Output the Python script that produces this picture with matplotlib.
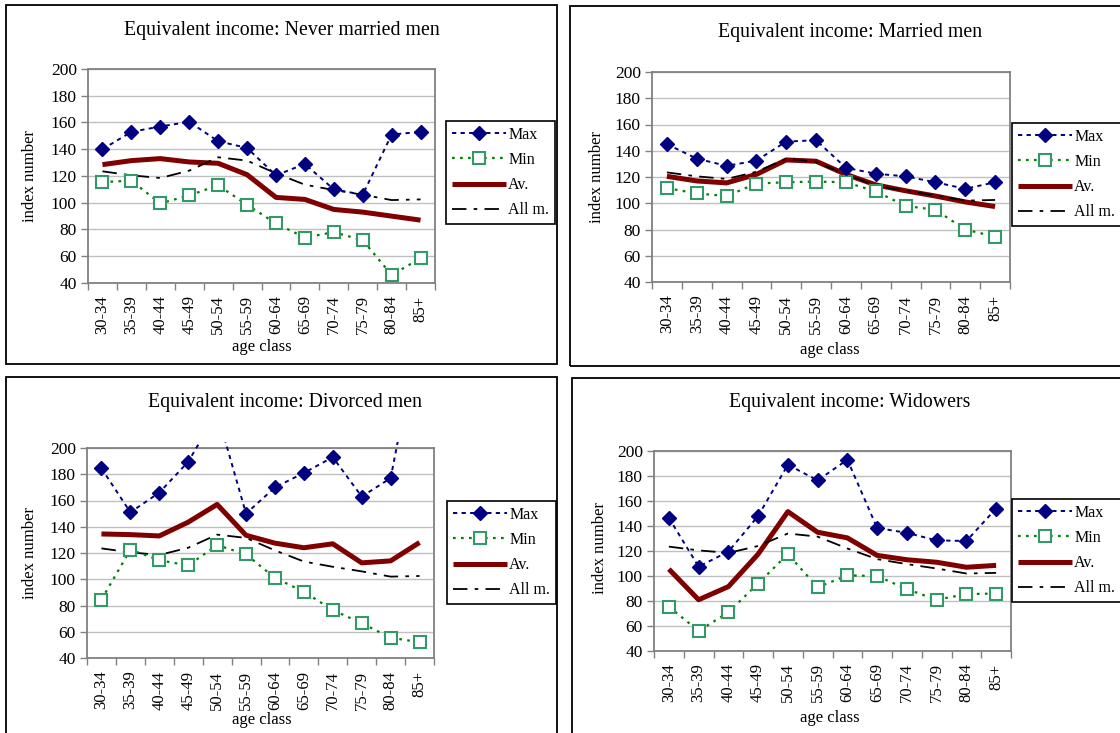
import numpy as np
import matplotlib.pyplot as plt
from matplotlib.patches import Rectangle

plt.rcParams['font.family'] = ['Liberation Serif', 'DejaVu Serif']

# age classes on the x axis
age = ['30-34', '35-39', '40-44', '45-49', '50-54', '55-59',
       '60-64', '65-69', '70-74', '75-79', '80-84', '85+']

# reference line: all men
all_men = [123.5, 120.5, 118.5, 124, 134, 131.5, 122, 113.5, 109.5, 106, 102, 102.5]

never_max = [140, 153, 157, 160.5, 146, 141, 120.5, 129, 110, 106, 151, 153]
never_min = [115.5, 116.5, 99.5, 105.5, 113, 98.5, 84.5, 74, 78, 72, 46, 58.5]
never_av = [128.5, 131.5, 133, 130.5, 129.5, 121, 104, 102.5, 95, 93, 90, 87]

married_max = [145, 134, 128.5, 132.5, 147, 148, 127, 122.5, 120.5, 116, 111, 116]
married_min = [111.5, 107.5, 105.5, 115, 116, 116.5, 116, 109, 98, 95, 80, 74.5]
married_av = [120.5, 117, 115.5, 122, 133, 132, 122, 114, 109.5, 105.5, 101, 97.5]

divorced_max = [184.5, 151, 166, 189.5, 227, 150, 170, 181, 193, 163, 177, 290]
divorced_min = [84.5, 122.5, 114.5, 110.5, 126, 119, 101, 90.5, 76.5, 66.5, 55.5, 52]
divorced_av = [134.5, 134, 133, 143.5, 157, 133.5, 127.5, 124, 127, 112.5, 114, 128]

widower_max = [146.5, 107.5, 119.5, 148, 189, 176.5, 193, 138.5, 134.5, 128.5, 128, 154]
widower_min = [75.5, 56, 71, 94, 117.5, 91, 100.5, 100, 89.5, 81, 85.5, 86]
widower_av = [105.5, 81, 91.5, 117.5, 151.5, 135, 130.5, 116.5, 113, 111, 107, 108.5]

W, H = 1120, 733
fig = plt.figure(figsize=(W / 100, H / 100), dpi=100)
fig.patch.set_facecolor('white')


def fx(x):
    return x / W


def fy(y):
    return 1 - y / H


def draw_panel(title, vmax, vmin, vav, frame, axbox, legpos, title_xy, ylab_xy, xlab_xy):
    # outer chart frame
    l, t, r, b = frame
    fig.patches.append(Rectangle((fx(l), fy(b)), (r - l) / W, (b - t) / H,
                                 transform=fig.transFigure, fill=False,
                                 ec='black', lw=1.3))

    l, t, r, b = axbox
    ax = fig.add_axes([fx(l), fy(b), (r - l) / W, (b - t) / H])
    x = np.arange(len(age))
    clip = Rectangle((0, -0.05), 1, 1.08, transform=ax.transAxes)

    lines = []
    lines += ax.plot(x, vmax, color='#000080', ls=(0, (2.2, 2.2)), lw=1.4,
                     marker='D', ms=7, mfc='#000080', mec='#000080', label='Max', zorder=5)
    lines += ax.plot(x, vmin, color='#008000', ls=(0, (1.2, 2.4)), lw=1.6,
                     marker='s', ms=8, mfc='white', mec='#339966', mew=1.5,
                     label='Min', zorder=4)
    lines += ax.plot(x, vav, color='#800000', lw=3.6, solid_capstyle='butt',
                     label='Av.', zorder=2)
    lines += ax.plot(x, all_men, color='black', ls=(0, (8, 4, 2, 4)), lw=1.3,
                     label='All m.', zorder=3)
    for ln in lines:
        ln.set_clip_path(clip)

    ax.set_xlim(-0.5, 11.5)
    ax.set_ylim(40, 200)
    ax.set_yticks(range(40, 201, 20))
    ax.yaxis.grid(True, color='#c0c0c0', lw=1)
    ax.set_axisbelow(True)
    ax.set_xticks(x)
    ax.set_xticklabels(age, rotation=90)
    ax.set_xticks(np.arange(-0.5, 12, 1), minor=True)
    ax.tick_params(axis='x', which='major', length=0, pad=9, labelsize=12)
    ax.tick_params(axis='x', which='minor', length=5, color='#808080', width=1)
    ax.tick_params(axis='y', length=5, color='#808080', width=1, labelsize=12.5, pad=3)
    for sp in ax.spines.values():
        sp.set_color('#808080')
        sp.set_linewidth(1.3)

    fig.text(fx(title_xy[0]), fy(title_xy[1]), title, ha='center', va='center', fontsize=14.3)
    fig.text(fx(ylab_xy[0]), fy(ylab_xy[1]), 'index number', ha='center', va='center',
             rotation=90, fontsize=12)
    fig.text(fx(xlab_xy[0]), fy(xlab_xy[1]), 'age class', ha='center', va='center', fontsize=12)

    leg = ax.legend(loc='upper left', bbox_to_anchor=(fx(legpos[0]), fy(legpos[1])),
                    bbox_transform=fig.transFigure, numpoints=1,
                    frameon=True, fancybox=False, framealpha=1, edgecolor='black',
                    fontsize=11.5, handlelength=3.4, handletextpad=0.15,
                    labelspacing=0.58, borderpad=0.35, borderaxespad=0)
    leg.get_frame().set_linewidth(1.2)
    return ax


draw_panel('Equivalent income: Never married men', never_max, never_min, never_av,
           (6, 5, 557, 364), (88, 69, 435, 283), (446, 121),
           (282, 30), (30, 176), (262, 347))
draw_panel('Equivalent income: Married men', married_max, married_min, married_av,
           (570, 6, 1126, 366), (652, 72, 1010, 282), (1012, 123),
           (850, 33), (597, 177), (830, 350))
draw_panel('Equivalent income: Divorced men', divorced_max, divorced_min, divorced_av,
           (6, 377, 557, 740), (87, 448, 434, 658), (447, 501),
           (285, 403), (30, 553), (262, 720))
draw_panel('Equivalent income: Widowers', widower_max, widower_min, widower_av,
           (572, 378, 1126, 740), (654, 451, 1011, 651), (1012, 499),
           (850, 403), (600, 548), (830, 718))

fig.savefig('out.png', dpi=100)
